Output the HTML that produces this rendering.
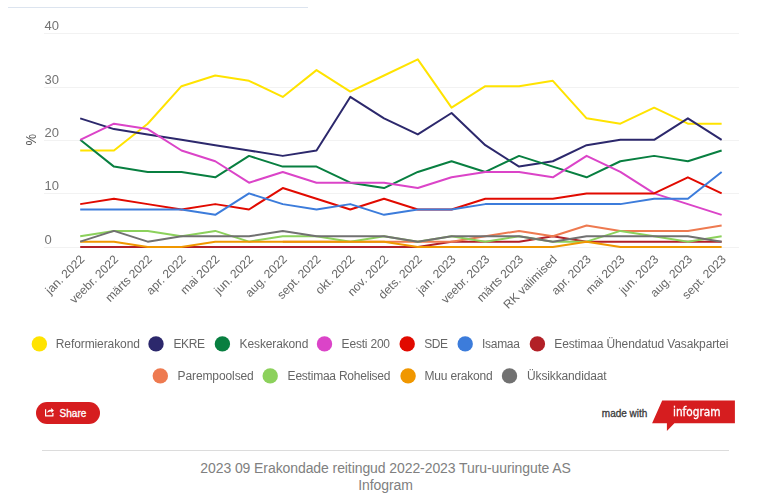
<!DOCTYPE html>
<html><head><meta charset="utf-8"><title>Erakondade reitingud</title>
<style>
html,body{margin:0;padding:0;background:#fff;}
body{width:774px;height:502px;overflow:hidden;position:relative;font-family:"Liberation Sans",Arial,sans-serif;}
#topline{position:absolute;left:8px;top:7px;width:300px;height:1px;background:#dce4ef;}
svg#chart{position:absolute;left:0;top:0;will-change:transform;}
.yl{font-size:13px;fill:#737373;}
.pct{font-size:13px;fill:#555;}
.xl{font-size:12px;fill:#666;}
.lg{font-size:12px;fill:#666;}
#share{position:absolute;left:36px;top:402px;width:64px;height:22px;border-radius:11px;background:#d61d1f;color:#fff;}
#share svg{position:absolute;left:8px;top:4px;}
#share span{position:absolute;left:23.6px;top:5.6px;font-size:10px;-webkit-text-stroke:0.3px #fff;line-height:12px;letter-spacing:0;}
#made{position:absolute;left:601.8px;top:408px;font-size:10px;color:#3a3a3a;-webkit-text-stroke:0.3px #3a3a3a;line-height:12px;white-space:nowrap;}
#logo{position:absolute;left:650px;top:398px;}
#logo span{position:absolute;left:22.5px;top:6.5px;font-family:"DejaVu Sans Condensed","DejaVu Sans",sans-serif;font-size:13px;color:#fff;-webkit-text-stroke:0.35px #fff;line-height:14px;transform:scaleX(0.9);transform-origin:0 0;white-space:nowrap;}
#sep{position:absolute;left:42px;top:450px;width:687px;height:1px;background:#dcdcdc;}
#cap{position:absolute;left:0;width:771px;top:460px;text-align:center;font-size:14px;line-height:17px;color:#808080;letter-spacing:-0.085px;}
</style></head><body>
<div id="topline"></div>
<svg id="chart" width="774" height="400" viewBox="0 0 774 400">
<line x1="44" y1="247.5" x2="739" y2="247.5" stroke="#f2f2f2" stroke-width="1"/>
<text x="44.5" y="244.2" class="yl">0</text>
<line x1="44" y1="193.5" x2="739" y2="193.5" stroke="#f2f2f2" stroke-width="1"/>
<text x="44.5" y="190.2" class="yl">10</text>
<line x1="44" y1="140.5" x2="739" y2="140.5" stroke="#f2f2f2" stroke-width="1"/>
<text x="44.5" y="137.2" class="yl">20</text>
<line x1="44" y1="87.5" x2="739" y2="87.5" stroke="#f2f2f2" stroke-width="1"/>
<text x="44.5" y="84.2" class="yl">30</text>
<line x1="44" y1="33.5" x2="739" y2="33.5" stroke="#f2f2f2" stroke-width="1"/>
<text x="44.5" y="30.2" class="yl">40</text>
<text x="0" y="0" class="pct" transform="translate(36.0 139.8) rotate(-90) scale(1 1.09)" text-anchor="middle">%</text>
<polyline points="80.20,150.52 113.96,150.52 147.72,123.72 181.48,86.20 215.24,75.48 249.00,80.84 282.76,96.92 316.52,70.12 350.28,91.56 384.04,75.48 417.80,59.40 451.56,107.64 485.32,86.20 519.08,86.20 552.84,80.84 586.60,118.36 620.36,123.72 654.12,107.64 687.88,123.72 721.64,123.72" fill="none" stroke="#FFE300" stroke-width="2" stroke-linejoin="round" stroke-linecap="butt"/>
<polyline points="80.20,118.36 113.96,129.08 147.72,134.44 181.48,139.80 215.24,145.16 249.00,150.52 282.76,155.88 316.52,150.52 350.28,96.92 384.04,118.36 417.80,134.44 451.56,113.00 485.32,145.16 519.08,166.60 552.84,161.24 586.60,145.16 620.36,139.80 654.12,139.80 687.88,118.36 721.64,139.80" fill="none" stroke="#2C286C" stroke-width="2" stroke-linejoin="round" stroke-linecap="butt"/>
<polyline points="80.20,139.80 113.96,166.60 147.72,171.96 181.48,171.96 215.24,177.32 249.00,155.88 282.76,166.60 316.52,166.60 350.28,182.68 384.04,188.04 417.80,171.96 451.56,161.24 485.32,171.96 519.08,155.88 552.84,166.60 586.60,177.32 620.36,161.24 654.12,155.88 687.88,161.24 721.64,150.52" fill="none" stroke="#087F40" stroke-width="2" stroke-linejoin="round" stroke-linecap="butt"/>
<polyline points="80.20,139.80 113.96,123.72 147.72,129.08 181.48,150.52 215.24,161.24 249.00,182.68 282.76,171.96 316.52,182.68 350.28,182.68 384.04,182.68 417.80,188.04 451.56,177.32 485.32,171.96 519.08,171.96 552.84,177.32 586.60,155.88 620.36,171.96 654.12,193.40 687.88,204.12 721.64,214.84" fill="none" stroke="#DB44C8" stroke-width="2" stroke-linejoin="round" stroke-linecap="butt"/>
<polyline points="80.20,204.12 113.96,198.76 147.72,204.12 181.48,209.48 215.24,204.12 249.00,209.48 282.76,188.04 316.52,198.76 350.28,209.48 384.04,198.76 417.80,209.48 451.56,209.48 485.32,198.76 519.08,198.76 552.84,198.76 586.60,193.40 620.36,193.40 654.12,193.40 687.88,177.32 721.64,193.40" fill="none" stroke="#E10A00" stroke-width="2" stroke-linejoin="round" stroke-linecap="butt"/>
<polyline points="80.20,209.48 113.96,209.48 147.72,209.48 181.48,209.48 215.24,214.84 249.00,193.40 282.76,204.12 316.52,209.48 350.28,204.12 384.04,214.84 417.80,209.48 451.56,209.48 485.32,204.12 519.08,204.12 552.84,204.12 586.60,204.12 620.36,204.12 654.12,198.76 687.88,198.76 721.64,171.96" fill="none" stroke="#3C7CDB" stroke-width="2" stroke-linejoin="round" stroke-linecap="butt"/>
<polyline points="80.20,247.00 113.96,247.00 147.72,247.00 181.48,247.00 215.24,247.00 249.00,247.00 282.76,247.00 316.52,247.00 350.28,247.00 384.04,247.00 417.80,247.00 451.56,241.64 485.32,241.64 519.08,241.64 552.84,236.28 586.60,241.64 620.36,241.64 654.12,241.64 687.88,241.64 721.64,241.64" fill="none" stroke="#B22027" stroke-width="2" stroke-linejoin="round" stroke-linecap="butt"/>
<polyline points="282.76,241.64 316.52,241.64 350.28,241.64 384.04,241.64 417.80,241.64 451.56,241.64 485.32,236.28 519.08,230.92 552.84,236.28 586.60,225.56 620.36,230.92 654.12,230.92 687.88,230.92 721.64,225.56" fill="none" stroke="#EE7A50" stroke-width="2" stroke-linejoin="round" stroke-linecap="butt"/>
<polyline points="80.20,236.28 113.96,230.92 147.72,230.92 181.48,236.28 215.24,230.92 249.00,241.64 282.76,236.28 316.52,236.28 350.28,241.64 384.04,236.28 417.80,241.64 451.56,236.28 485.32,241.64 519.08,236.28 552.84,241.64 586.60,241.64 620.36,230.92 654.12,236.28 687.88,241.64 721.64,236.28" fill="none" stroke="#8CD15C" stroke-width="2" stroke-linejoin="round" stroke-linecap="butt"/>
<polyline points="80.20,241.64 113.96,241.64 147.72,247.00 181.48,247.00 215.24,241.64 249.00,241.64 282.76,241.64 316.52,241.64 350.28,241.64 384.04,241.64 417.80,247.00 451.56,247.00 485.32,247.00 519.08,247.00 552.84,247.00 586.60,241.64 620.36,247.00 654.12,247.00 687.88,247.00 721.64,247.00" fill="none" stroke="#F09700" stroke-width="2" stroke-linejoin="round" stroke-linecap="butt"/>
<polyline points="80.20,241.64 113.96,230.92 147.72,241.64 181.48,236.28 215.24,236.28 249.00,236.28 282.76,230.92 316.52,236.28 350.28,236.28 384.04,236.28 417.80,241.64 451.56,236.28 485.32,236.28 519.08,236.28 552.84,241.64 586.60,236.28 620.36,236.28 654.12,236.28 687.88,236.28 721.64,241.64" fill="none" stroke="#717171" stroke-width="2" stroke-linejoin="round" stroke-linecap="butt"/>
<text x="85.20" y="260.00" class="xl" text-anchor="end" transform="rotate(-45 85.20 260.00)">jan. 2022</text>
<text x="118.96" y="260.00" class="xl" text-anchor="end" transform="rotate(-45 118.96 260.00)">veebr. 2022</text>
<text x="152.72" y="260.00" class="xl" text-anchor="end" transform="rotate(-45 152.72 260.00)">märts 2022</text>
<text x="186.48" y="260.00" class="xl" text-anchor="end" transform="rotate(-45 186.48 260.00)">apr. 2022</text>
<text x="220.24" y="260.00" class="xl" text-anchor="end" transform="rotate(-45 220.24 260.00)">mai 2022</text>
<text x="254.00" y="260.00" class="xl" text-anchor="end" transform="rotate(-45 254.00 260.00)">jun. 2022</text>
<text x="287.76" y="260.00" class="xl" text-anchor="end" transform="rotate(-45 287.76 260.00)">aug. 2022</text>
<text x="321.52" y="260.00" class="xl" text-anchor="end" transform="rotate(-45 321.52 260.00)">sept. 2022</text>
<text x="355.28" y="260.00" class="xl" text-anchor="end" transform="rotate(-45 355.28 260.00)">okt. 2022</text>
<text x="389.04" y="260.00" class="xl" text-anchor="end" transform="rotate(-45 389.04 260.00)">nov. 2022</text>
<text x="422.80" y="260.00" class="xl" text-anchor="end" transform="rotate(-45 422.80 260.00)">dets. 2022</text>
<text x="456.56" y="260.00" class="xl" text-anchor="end" transform="rotate(-45 456.56 260.00)">jan. 2023</text>
<text x="490.32" y="260.00" class="xl" text-anchor="end" transform="rotate(-45 490.32 260.00)">veebr. 2023</text>
<text x="524.08" y="260.00" class="xl" text-anchor="end" transform="rotate(-45 524.08 260.00)">märts 2023</text>
<text x="557.84" y="260.00" class="xl" text-anchor="end" transform="rotate(-45 557.84 260.00)">RK valimised</text>
<text x="591.60" y="260.00" class="xl" text-anchor="end" transform="rotate(-45 591.60 260.00)">apr. 2023</text>
<text x="625.36" y="260.00" class="xl" text-anchor="end" transform="rotate(-45 625.36 260.00)">mai 2023</text>
<text x="659.12" y="260.00" class="xl" text-anchor="end" transform="rotate(-45 659.12 260.00)">jun. 2023</text>
<text x="692.88" y="260.00" class="xl" text-anchor="end" transform="rotate(-45 692.88 260.00)">aug. 2023</text>
<text x="726.64" y="260.00" class="xl" text-anchor="end" transform="rotate(-45 726.64 260.00)">sept. 2023</text>
<circle cx="39.35" cy="343.9" r="7.7" fill="#FFE300"/>
<text x="55.8" y="347.8" class="lg" textLength="84.1" lengthAdjust="spacing">Reformierakond</text>
<circle cx="156.0" cy="343.9" r="7.7" fill="#2C286C"/>
<text x="173.4" y="347.8" class="lg" textLength="31.7" lengthAdjust="spacing">EKRE</text>
<circle cx="222.4" cy="343.9" r="7.7" fill="#087F40"/>
<text x="239.6" y="347.8" class="lg" textLength="68.75" lengthAdjust="spacing">Keskerakond</text>
<circle cx="324.5" cy="343.9" r="7.7" fill="#DB44C8"/>
<text x="341.6" y="347.8" class="lg" textLength="48.45" lengthAdjust="spacing">Eesti 200</text>
<circle cx="407.2" cy="343.9" r="7.7" fill="#E10A00"/>
<text x="424.2" y="347.8" class="lg" textLength="23.7" lengthAdjust="spacing">SDE</text>
<circle cx="465.2" cy="343.9" r="7.7" fill="#3C7CDB"/>
<text x="482.0" y="347.8" class="lg" textLength="37.9" lengthAdjust="spacing">Isamaa</text>
<circle cx="537.4" cy="343.9" r="7.7" fill="#B22027"/>
<text x="554.3" y="347.8" class="lg" textLength="174.2" lengthAdjust="spacing">Eestimaa Ühendatud Vasakpartei</text>
<circle cx="160.3" cy="375.9" r="7.7" fill="#EE7A50"/>
<text x="177.5" y="379.8" class="lg" textLength="76.3" lengthAdjust="spacing">Parempoolsed</text>
<circle cx="270.2" cy="375.9" r="7.7" fill="#8CD15C"/>
<text x="287.6" y="379.8" class="lg" textLength="102.9" lengthAdjust="spacing">Eestimaa Rohelised</text>
<circle cx="408.1" cy="375.9" r="7.7" fill="#F09700"/>
<text x="424.5" y="379.8" class="lg" textLength="68.25" lengthAdjust="spacing">Muu erakond</text>
<circle cx="509.5" cy="375.9" r="7.7" fill="#717171"/>
<text x="527.1" y="379.8" class="lg" textLength="79.5" lengthAdjust="spacing">Üksikkandidaat</text>
</svg>
<div id="share"><svg width="12" height="12" viewBox="0 0 12 12"><path d="M1.6 3.3 V9.9 H8.9 V6.9" fill="none" stroke="#fff" stroke-width="1.2" stroke-linejoin="round"/><path d="M2.9 7.0 C3.2 5.0 5.0 3.7 7.4 3.5 L7.5 5.5 C5.6 5.4 4.1 5.9 2.9 7.0 Z M7.2 2.0 L9.9 4.4 L7.5 7.0 Z" fill="#fff"/></svg><span>Share</span></div>
<div id="made">made with</div>
<div id="logo"><svg width="90" height="34" viewBox="0 0 90 34"><path d="M12.2 2.6 H84.9 V25.3 H24.4 L16.9 33.1 V25.3 H2.1 Z" fill="#d61d1f"/></svg><span>infogram</span></div>
<div id="sep"></div>
<div id="cap">2023 09 Erakondade reitingud 2022-2023 Turu-uuringute AS<br>Infogram</div>
</body></html>
